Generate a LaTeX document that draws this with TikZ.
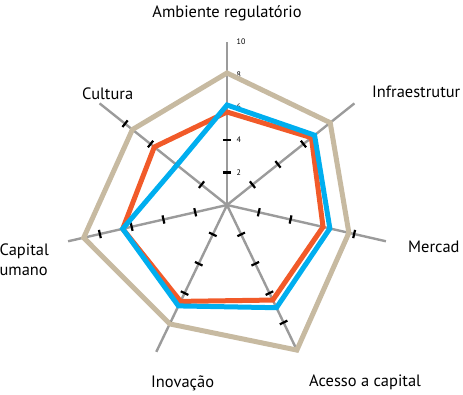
\documentclass[tikz,border=0pt]{standalone}
\usepackage{fontspec}
\setmainfont{PT Sans}
\usetikzlibrary{calc}
\definecolor{beigec}{RGB}{199,186,161}
\definecolor{orangec}{RGB}{241,90,41}
\definecolor{bluec}{RGB}{0,174,239}
\definecolor{axisc}{RGB}{155,155,155}
\tikzset{
  axisline/.style={draw=axisc, line width=2.4bp},
  tickline/.style={draw=black, line width=2.2bp},
  polyline/.style={line width=5bp, line join=miter},
  catlabel/.style={font=\fontsize{16.5}{18}\selectfont, inner sep=0pt},
  numlabel/.style={font=\fontsize{8}{9}\selectfont, inner sep=0pt, anchor=west},
}
\begin{document}
\begin{tikzpicture}[x=1bp,y=1bp]
\useasboundingbox (0,0) rectangle (463,394);
\coordinate (C) at (227,189);
\def\unit{16.3}
% value labels on the top axis
\foreach \v in {2,4,6,8,10}
  \node[numlabel] (n\v) at ($(C)+(9.5,{\v*\unit})$) {\v};
% axes
\foreach \k in {0,...,6}{
  \coordinate (ax\k) at ($(C)+({90-\k*360/7}:163)$);
  \draw[axisline] (C) -- (ax\k);
}
% ticks
\foreach \k in {0,...,6}{
  \foreach \v in {2,4,6,8}{
    \coordinate (t\k-\v) at ($(C)+({90-\k*360/7}:{\v*\unit})$);
    \draw[tickline] ($(t\k-\v)+({180-\k*360/7}:4.2)$) -- ($(t\k-\v)+({-\k*360/7}:4.2)$);
  }
}
% polygons
\foreach \r [count=\i from 0] in {132,132,125,161,132,147,121}
  \coordinate (be\i) at ($(C)+({90-\i*360/7}:\r)$);
\foreach \r [count=\i from 0] in {93,108,98.5,105.5,107,107,93}
  \coordinate (or\i) at ($(C)+({90-\i*360/7}:\r)$);
\foreach \r [count=\i from 0] in {100,112,105.5,114,112,107,64}
  \coordinate (bl\i) at ($(C)+({90-\i*360/7}:\r)$);
\draw[polyline, draw=beigec] (be0) -- (be1) -- (be2) -- (be3) -- (be4) -- (be5) -- (be6) -- cycle;
\draw[polyline, draw=orangec] (or0) -- (or1) -- (or2) -- (or3) -- (or4) -- (or5) -- (or6) -- cycle;
\draw[polyline, draw=bluec] (bl0) -- (bl1) -- (bl2) -- (bl3) -- (bl4) -- (bl5) -- (bl6) -- cycle;
% category labels
\node[catlabel, anchor=base] (l0) at (227,377) {Ambiente regulatório};
\node[catlabel, anchor=base west] (l1) at (372,297) {Infraestrutur};
\node[catlabel, anchor=base west] (l2) at (408,142) {Mercad};
\node[catlabel, anchor=base west] (l3) at (309,8) {Acesso a capital};
\node[catlabel, anchor=base west] (l4) at (151,7) {Inovação};
\node[catlabel, anchor=base east] (l5a) at (49,139) {Capital};
\node[catlabel, anchor=base east] (l5b) at (48,119) {umano};
\node[catlabel, anchor=base west] (l6) at (82,295) {Cultura};
\end{tikzpicture}
\end{document}
